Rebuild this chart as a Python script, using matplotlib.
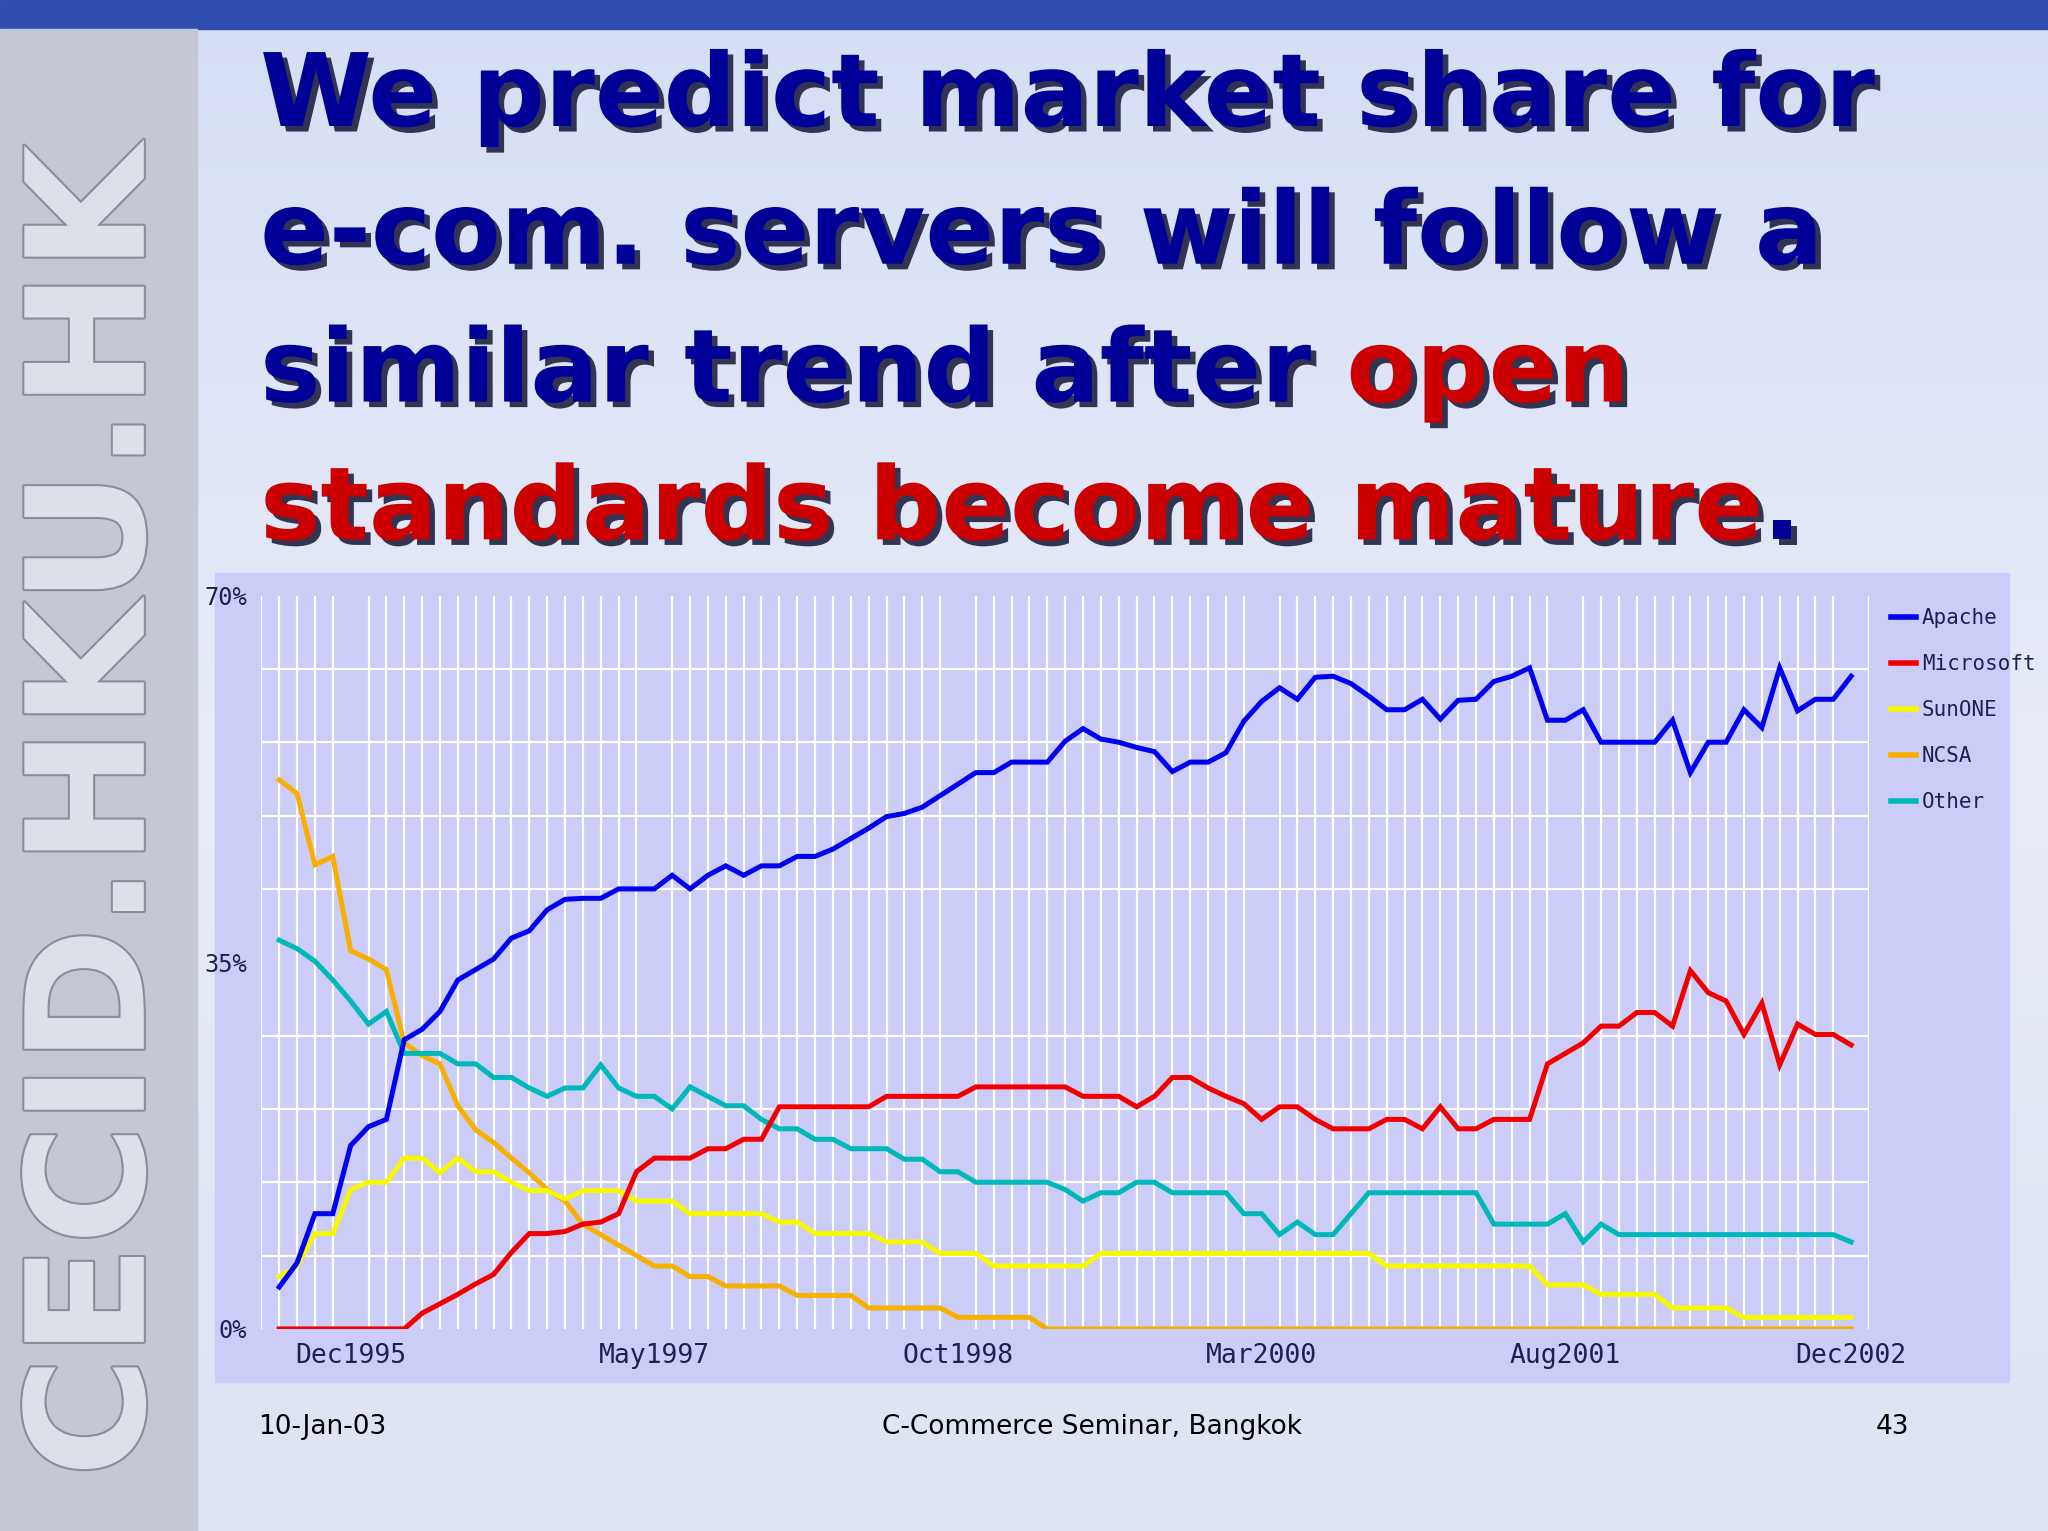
import numpy as np
import matplotlib.pyplot as plt
import matplotlib.patheffects as pe
from matplotlib.lines import Line2D

# monthly Netcraft-style shares, Aug 1995 .. Dec 2002
apache = [4.0, 6.3, 11, 11, 17.5, 19.3, 20, 27.6, 28.6, 30.3, 33.3, 34.3, 35.3, 37.3, 38, 40,
          41, 41.1, 41.1, 42, 42, 42, 43.3, 42, 43.3, 44.2, 43.3, 44.2, 44.2, 45.1, 45.1, 45.8,
          46.8, 47.8, 48.9, 49.2, 49.8, 50.9, 52, 53.1, 53.1, 54.1, 54.1, 54.1, 56.1, 57.3, 56.3,
          56, 55.5, 55.1, 53.2, 54.1, 54.1, 55, 58, 59.9, 61.2, 60.1, 62.2, 62.3, 61.6, 60.4,
          59.1, 59.1, 60.1, 58.2, 60, 60.1, 61.8, 62.3, 63.1, 58.1, 58.1, 59.1, 56, 56, 56, 56,
          58.1, 53.1, 56, 56, 59.1, 57.4, 63.1, 59, 60.1, 60.1, 62.3]
microsoft = [0, 0, 0, 0, 0, 0, 0, 0, 1.5, 2.4, 3.3, 4.3, 5.2, 7.3, 9.1, 9.1, 9.3, 10, 10.2, 11,
             15, 16.3, 16.3, 16.3, 17.2, 17.2, 18.1, 18.1, 21.2, 21.2, 21.2, 21.2, 21.2, 21.2,
             22.2, 22.2, 22.2, 22.2, 22.2, 23.1, 23.1, 23.1, 23.1, 23.1, 23.1, 22.2, 22.2, 22.2,
             21.2, 22.2, 24, 24, 23, 22.2, 21.5, 20, 21.2, 21.2, 20, 19.1, 19.1, 19.1, 20, 20,
             19.1, 21.2, 19.1, 19.1, 20, 20, 20, 25.3, 26.3, 27.3, 28.9, 28.9, 30.2, 30.2, 28.9,
             34.2, 32.1, 31.3, 28.1, 31.1, 25.2, 29.1, 28.1, 28.1, 27.1]
sunone = [5, 6, 9.1, 9.1, 13.3, 14, 14, 16.3, 16.3, 14.9, 16.3, 15, 15, 14, 13.2, 13.2, 12.4,
          13.2, 13.2, 13.2, 12.2, 12.2, 12.2, 11, 11, 11, 11, 11, 10.2, 10.2, 9.1, 9.1, 9.1, 9.1,
          8.3, 8.3, 8.3, 7.2, 7.2, 7.2, 6, 6, 6, 6, 6, 6, 7.2, 7.2, 7.2, 7.2, 7.2, 7.2, 7.2, 7.2,
          7.2, 7.2, 7.2, 7.2, 7.2, 7.2, 7.2, 7.2, 6, 6, 6, 6, 6, 6, 6, 6, 6, 4.2, 4.2, 4.2, 3.3,
          3.3, 3.3, 3.3, 2, 2, 2, 2, 1.1, 1.1, 1.1, 1.1, 1.1, 1.1, 1.1]
ncsa = [52.4, 51.1, 44.3, 45.1, 36.1, 35.3, 34.3, 27.3, 26.1, 25.3, 21.3, 19, 17.8, 16.3, 14.9,
        13.3, 12.2, 10, 9, 8, 7, 6, 6, 5, 5, 4.1, 4.1, 4.1, 4.1, 3.2, 3.2, 3.2, 3.2, 2, 2, 2, 2,
        2, 1.1, 1.1, 1.1, 1.1, 1.1] + [0] * 46
other = [37.1, 36.3, 35.1, 33.3, 31.3, 29.1, 30.3, 26.3, 26.3, 26.3, 25.3, 25.3, 24, 24, 23,
         22.2, 23, 23, 25.2, 23, 22.2, 22.2, 21, 23.1, 22.2, 21.3, 21.3, 20, 19.1, 19.1, 18.1,
         18.1, 17.2, 17.2, 17.2, 16.2, 16.2, 15, 15, 14, 14, 14, 14, 14, 13.3, 12.2, 13, 13, 14,
         14, 13, 13, 13, 13, 11, 11, 9, 10.2, 9, 9, 11, 13, 13, 13, 13, 13, 13, 13, 10, 10, 10,
         10, 11, 8.3, 10, 9, 9, 9, 9, 9, 9, 9, 9, 9, 9, 9, 9, 9, 8.3]
names = ["Apache", "Microsoft", "SunONE", "NCSA", "Other"]
colors = ["#0000f0", "#f00000", "#f8f800", "#f8b000", "#00b8b8"]
tick_months = [4, 21, 38, 55, 72, 88]
tick_labels = ["Dec1995", "May1997", "Oct1998", "Mar2000", "Aug2001", "Dec2002"]

fig = plt.figure(figsize=(20.48, 15.31), dpi=100)

# slide background
bg = fig.add_axes([0, 0, 1, 1])
grad = np.linspace(0, 1, 256).reshape(-1, 1)
bg.imshow(grad, cmap=plt.matplotlib.colors.LinearSegmentedColormap.from_list(
    "bg", ["#d6def4", "#e8ecf8", "#dde3f2"]), aspect="auto", extent=[0, 1, 0, 1])
bg.add_patch(plt.Rectangle((0, 0.981), 1, 0.019, color="#3050b0"))
bg.add_patch(plt.Rectangle((0, 0), 0.096, 0.981, color="#c4c8d4"))
bg.set_xlim(0, 1)
bg.set_ylim(0, 1)
bg.axis("off")
bg.text(0.048, 0.47, "CECID.HKU.HK", rotation=90, ha="center", va="center", fontsize=118,
        color="#dde0e8", fontweight="bold",
        path_effects=[pe.withStroke(linewidth=3, foreground="#8a8e9a")])

# title
sh = [pe.withSimplePatchShadow(offset=(4, -4), shadow_rgbFace="#202040", alpha=0.9)]
lines = [("We predict market share for", None), ("e-com. servers will follow a", None),
         ("similar trend after ", "open"), ("", "standards become mature")]
fs = 73
y0 = 0.936
rend = fig.canvas.get_renderer()
for i, (blue, red) in enumerate(lines):
    y = y0 - i * 0.09
    t = fig.text(0.127, y, blue, fontsize=fs, fontweight="bold", color="#000099",
                 va="center", path_effects=sh)
    if red:
        x = 0.127
        if blue:
            x = t.get_window_extent(renderer=rend).x1 / fig.bbox.width
        r = fig.text(x, y, red, fontsize=fs, fontweight="bold", color="#cc0000",
                     va="center", path_effects=sh)
        if i == 3:
            fig.text(r.get_window_extent(renderer=rend).x1 / fig.bbox.width, y, ".",
                     fontsize=fs, fontweight="bold", color="#000099", va="center",
                     path_effects=sh)

# chart panel
bg.add_patch(plt.Rectangle((0.105, 0.097), 0.876, 0.529, color="#ccccf8"))

ax = fig.add_axes([0.1276, 0.132, 0.785, 0.479])
ax.set_facecolor("#ccccf8")
months = np.arange(len(apache))
for s, c in zip([ncsa, sunone, other, microsoft, apache],
                [colors[3], colors[2], colors[4], colors[1], colors[0]]):
    ax.plot(months, s, color=c, lw=3.6, solid_joinstyle="miter", zorder=3)
ax.set_xlim(-1, 89)
ax.set_ylim(0, 70)
ax.set_xticks(np.arange(-1, 90), minor=True)
ax.set_yticks(np.arange(0, 71, 7), minor=True)
ax.grid(which="minor", color="white", lw=1.6)
ax.set_xticks(tick_months)
ax.set_xticklabels(tick_labels, family="DejaVu Sans Mono", fontsize=19, color="#202050")
ax.set_yticks([0, 35, 70])
ax.set_yticklabels(["0%", "35%", "70%"], family="DejaVu Sans Mono", fontsize=17,
                   color="#202050")
ax.tick_params(which="both", length=0, pad=10)
for sp in ax.spines.values():
    sp.set_visible(False)

handles = [Line2D([], [], color=c, lw=4) for c in colors]
fig.legend(handles, names, loc="upper left", bbox_to_anchor=(0.914, 0.615), frameon=False,
           prop={"family": "DejaVu Sans Mono", "size": 15}, handlelength=1.2,
           handletextpad=0.3, labelspacing=1.25, labelcolor="#202050")

# footer
fig.text(0.126, 0.068, "10-Jan-03", fontsize=19, va="center")
fig.text(0.533, 0.068, "C-Commerce Seminar, Bangkok", fontsize=19, va="center", ha="center")
fig.text(0.932, 0.068, "43", fontsize=19, va="center", ha="right")

fig.savefig("out.png", dpi=100)
